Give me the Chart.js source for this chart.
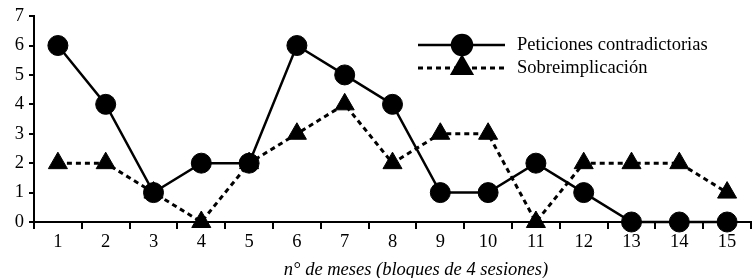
<!DOCTYPE html>
<html>
<head>
<meta charset="utf-8">
<script src="https://cdn.jsdelivr.net/npm/chart.js@4.4.0/dist/chart.umd.min.js"></script>
<style>
  html, body { margin: 0; padding: 0; background: #fff; overflow: hidden; }
  #wrap { width: 754px; height: 278px; overflow: hidden; }
</style>
</head>
<body>
<div id="wrap"><canvas id="chart" width="763" height="278"></canvas></div>
<script>
const SERIF = "'Liberation Serif', 'Times New Roman', serif"
const BLACK = '#000'
const FS = 18.5

// data
const meses = ['1', '2', '3', '4', '5', '6', '7', '8', '9', '10', '11', '12', '13', '14', '15']
const peticiones = [6, 4, 1, 2, 2, 6, 5, 4, 1, 1, 2, 1, 0, 0, 0]
const sobreimplicacion = [2, 2, 1, 0, 2, 3, 4, 2, 3, 3, 0, 2, 2, 2, 1]
const seriesNames = ['Peticiones contradictorias', 'Sobreimplicación']
const axisTitle = 'n° de meses (bloques de 4 sesiones)'

// legend with line + marker, and the x title, placed like the original figure
const figureText = {
  id: 'figureText',
  afterDraw(chart) {
    const ctx = chart.ctx
    const x0 = 418, x1 = 505, xm = 462, xt = 517
    const rows = [45, 68]
    chart.data.datasets.forEach((ds, i) => {
      const y = rows[i]
      ctx.save()
      ctx.strokeStyle = BLACK
      ctx.lineWidth = ds.borderWidth
      ctx.setLineDash(ds.borderDash || [])
      ctx.beginPath()
      ctx.moveTo(x0, y)
      ctx.lineTo(x1, y)
      ctx.stroke()
      ctx.setLineDash([])
      ctx.fillStyle = BLACK
      Chart.helpers.drawPoint(ctx, {
        pointStyle: ds.pointStyle,
        radius: ds.pointRadius,
        rotation: 0,
        borderWidth: 1,
      }, xm, y)
      ctx.font = FS + 'px ' + SERIF
      ctx.textBaseline = 'middle'
      ctx.textAlign = 'left'
      ctx.fillText(ds.label, xt, y)
      ctx.restore()
    })
    ctx.save()
    ctx.fillStyle = BLACK
    ctx.font = 'italic ' + FS + 'px ' + SERIF
    ctx.textAlign = 'center'
    ctx.textBaseline = 'middle'
    ctx.fillText(axisTitle, 416, 270)
    ctx.restore()
  },
}

new Chart(document.getElementById('chart'), {
  type: 'line',
  data: {
    labels: meses,
    datasets: [
      {
        label: seriesNames[0],
        data: peticiones,
        borderColor: BLACK,
        backgroundColor: BLACK,
        borderWidth: 2.5,
        pointStyle: 'circle',
        pointRadius: 10,
        pointBorderWidth: 1,
        tension: 0,
        clip: false,
      },
      {
        label: seriesNames[1],
        data: sobreimplicacion,
        borderColor: BLACK,
        backgroundColor: BLACK,
        borderWidth: 3,
        borderDash: [5, 4],
        pointStyle: 'triangle',
        pointRadius: 11,
        pointBorderWidth: 1,
        tension: 0,
        clip: false,
      },
    ],
  },
  options: {
    responsive: false,
    animation: false,
    layout: { padding: { top: 14, left: 0, right: 0, bottom: 0 } },
    plugins: {
      legend: { display: false },
      tooltip: { enabled: false },
    },
    scales: {
      x: {
        offset: true,
        grid: {
          offset: true,
          drawOnChartArea: false,
          tickLength: 7,
          color: BLACK,
          lineWidth: 2,
        },
        border: { color: BLACK, width: 2 },
        ticks: { color: BLACK, font: { family: SERIF, size: FS }, padding: 2, maxRotation: 0 },
        afterFit: (s) => { s.height = 56 },
      },
      y: {
        min: 0,
        max: 7,
        grid: {
          drawOnChartArea: false,
          tickLength: 5,
          color: BLACK,
          lineWidth: 2,
        },
        border: { color: BLACK, width: 2 },
        ticks: { stepSize: 1, color: BLACK, font: { family: SERIF, size: FS }, padding: 5 },
        afterFit: (s) => { s.width = 34 },
      },
    },
  },
  plugins: [figureText],
})
</script>
</body>
</html>
